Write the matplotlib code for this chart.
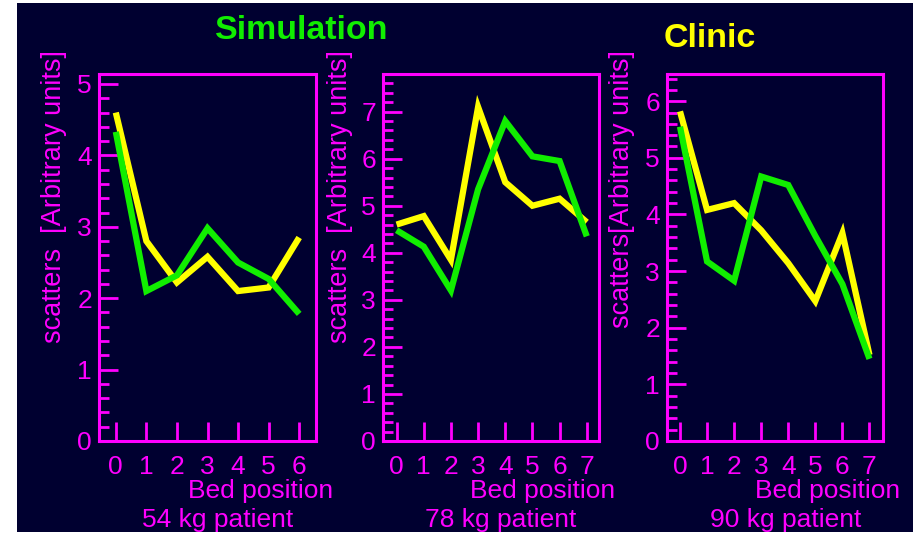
"""
Scatter counts per bed position: simulation vs clinic, three patients.
"""

import matplotlib
matplotlib.use("Agg")
import matplotlib.pyplot as plt
from matplotlib.patches import Rectangle
from matplotlib.ticker import MultipleLocator


# ------------------------------------------------------------------------------
# Data
# ------------------------------------------------------------------------------

patients = ["54 kg patient", "78 kg patient", "90 kg patient"]

bed_54 = [0, 1, 2, 3, 4, 5, 6]
clinic_54 = [4.6, 2.8, 2.22, 2.58, 2.1, 2.15, 2.85]
sim_54 = [4.33, 2.1, 2.32, 2.98, 2.5, 2.27, 1.78]

bed_78 = [0, 1, 2, 3, 4, 5, 6, 7]
clinic_78 = [4.6, 4.78, 3.85, 7.1, 5.5, 5.0, 5.15, 4.65]
sim_78 = [4.48, 4.13, 3.2, 5.35, 6.8, 6.05, 5.95, 4.35]

bed_90 = [0, 1, 2, 3, 4, 5, 6, 7]
clinic_90 = [5.82, 4.08, 4.2, 3.72, 3.14, 2.47, 3.67, 1.52]
sim_90 = [5.55, 3.17, 2.83, 4.67, 4.52, 3.62, 2.77, 1.45]

ylabels = ["scatters  [Arbitrary units]",
           "scatters  [Arbitrary units]",
           "scatters[Arbitrary units]"]


# ------------------------------------------------------------------------------
# Style
# ------------------------------------------------------------------------------

NAVY = "#000030"
MAGENTA = "#ff00ff"
GREEN = "#11ee00"
YELLOW = "#ffff00"

plt.rcParams["font.family"] = ["Liberation Sans", "DejaVu Sans"]

W, H = 920, 535
fig = plt.figure(figsize=(W / 100, H / 100), dpi=100)
fig.patch.set_facecolor("white")

# dark slide background (kept below the axes)
fig.patches.append(Rectangle((17 / W, 3 / H), (913 - 17) / W, (532 - 3) / H,
                             transform=fig.transFigure, facecolor=NAVY,
                             edgecolor="none", zorder=-5))


def px_box(left, right, top, bottom):
    return [left / W, 1 - bottom / H, (right - left) / W, (bottom - top) / H]


panels = [
    (px_box(99, 316, 74, 441), bed_54, clinic_54, sim_54, (-0.55, 6.55), 5.14),
    (px_box(383, 599, 74, 441), bed_78, clinic_78, sim_78, (-0.5, 7.45), 7.8),
    (px_box(667, 883, 74, 441), bed_90, clinic_90, sim_90, (-0.48, 7.5), 6.48),
]

ylabel_x = [54, 340, 622]
xlabel_right = [333, 615, 900]
patient_x = [218, 501, 786]

for i, (rect, bed, clinic, sim, xlim, ymax) in enumerate(panels):
    ax = fig.add_axes(rect)
    ax.set_facecolor("none")

    ax.plot(bed, clinic, color=YELLOW, lw=4.5,
            solid_capstyle="butt", solid_joinstyle="miter")
    ax.plot(bed, sim, color=GREEN, lw=4.5,
            solid_capstyle="butt", solid_joinstyle="miter")

    ax.set_xlim(*xlim)
    ax.set_ylim(0, ymax)
    ax.set_xticks(bed)
    ax.yaxis.set_major_locator(MultipleLocator(1))
    ax.yaxis.set_minor_locator(MultipleLocator(0.2))

    for side in ax.spines.values():
        side.set_color(MAGENTA)
        side.set_linewidth(2.2)

    ax.tick_params(axis="both", which="both", direction="in",
                   color=MAGENTA, labelcolor=MAGENTA, width=2,
                   top=False, right=False, labelsize=19)
    ax.tick_params(axis="y", which="major", length=14, pad=5)
    ax.tick_params(axis="y", which="minor", length=7)
    ax.tick_params(axis="x", which="major", length=14, pad=10)

    fig.text(ylabel_x[i] / W, 1 - 50 / H, ylabels[i], rotation=90,
             ha="center", va="top", color=MAGENTA, fontsize=19.5)
    fig.text(xlabel_right[i] / W, 1 - 498 / H, "Bed position",
             ha="right", va="baseline", color=MAGENTA, fontsize=19)
    fig.text(patient_x[i] / W, 1 - 527 / H, patients[i],
             ha="center", va="baseline", color=MAGENTA, fontsize=19)


# ------------------------------------------------------------------------------
# Titles
# ------------------------------------------------------------------------------

fig.text(302 / W, 1 - 39 / H, "Simulation", ha="center", va="baseline",
         color=GREEN, fontsize=24.5, fontweight="bold")
fig.text(710 / W, 1 - 47 / H, "Clinic", ha="center", va="baseline",
         color=YELLOW, fontsize=24.5, fontweight="bold")

fig.savefig("out.png", dpi=100, facecolor=fig.get_facecolor())
